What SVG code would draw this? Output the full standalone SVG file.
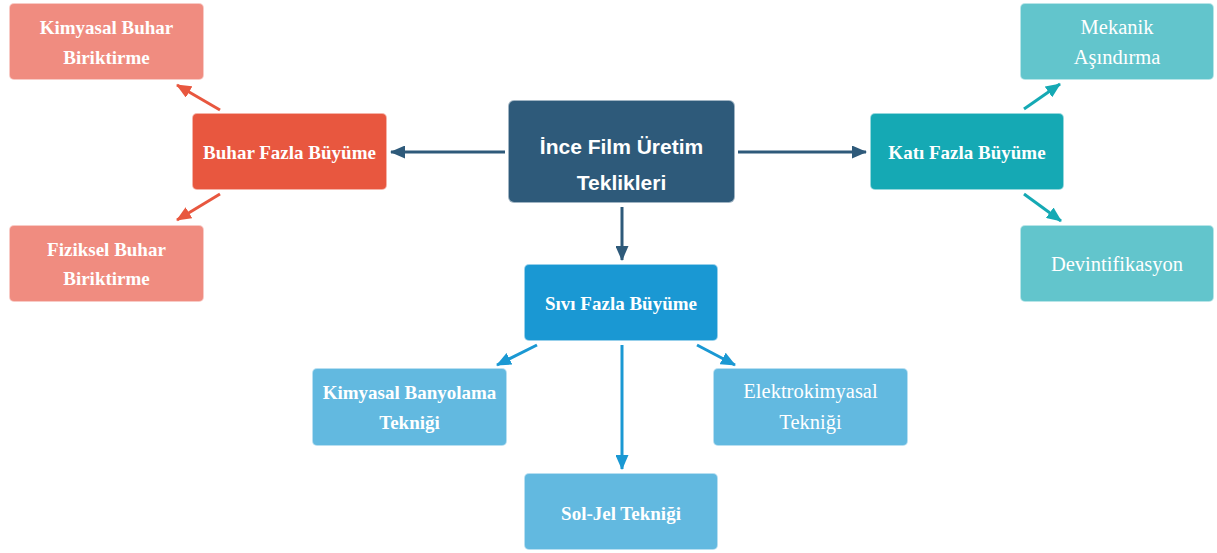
<svg xmlns="http://www.w3.org/2000/svg" width="1217" height="553" viewBox="0 0 1217 553">
  <style>
    .box { stroke: #ffffff; stroke-opacity: 0.55; stroke-width: 2; }
    .t { fill: #ffffff; text-anchor: middle; }
    .sans { font-family: "Liberation Sans", Arial, sans-serif; font-weight: bold; font-size: 21px; }
    .serifb { font-family: "Liberation Serif", "Times New Roman", serif; font-weight: bold; font-size: 19px; }
    .serif { font-family: "Liberation Serif", "Times New Roman", serif; font-size: 20.5px; }
    .ln { fill: none; stroke-width: 3; }
  </style>
  <defs>
    <marker id="aDark" viewBox="0 0 15 13" refX="14" refY="6.5" markerWidth="15" markerHeight="13" markerUnits="userSpaceOnUse" orient="auto">
      <path d="M0,0 L15,6.5 L0,13 Z" fill="#2e5a7a"/>
    </marker>
    <marker id="aRed" viewBox="0 0 15 13" refX="14" refY="6.5" markerWidth="15" markerHeight="13" markerUnits="userSpaceOnUse" orient="auto">
      <path d="M0,0 L15,6.5 L0,13 Z" fill="#e8573f"/>
    </marker>
    <marker id="aTeal" viewBox="0 0 15 13" refX="14" refY="6.5" markerWidth="15" markerHeight="13" markerUnits="userSpaceOnUse" orient="auto">
      <path d="M0,0 L15,6.5 L0,13 Z" fill="#15a9b4"/>
    </marker>
    <marker id="aBlue" viewBox="0 0 15 13" refX="14" refY="6.5" markerWidth="15" markerHeight="13" markerUnits="userSpaceOnUse" orient="auto">
      <path d="M0,0 L15,6.5 L0,13 Z" fill="#1a98d3"/>
    </marker>
  </defs>

  <rect width="1217" height="553" fill="#ffffff"/>

  <!-- connectors -->
  <g id="connectors">
    <line class="ln" x1="505" y1="152" x2="391" y2="152" stroke="#2e5a7a" marker-end="url(#aDark)"/>
    <line class="ln" x1="738" y1="152" x2="866" y2="152" stroke="#2e5a7a" marker-end="url(#aDark)"/>
    <line class="ln" x1="622" y1="207" x2="622" y2="260" stroke="#2e5a7a" marker-end="url(#aDark)"/>
    <line class="ln" x1="220" y1="110" x2="177" y2="85" stroke="#e8573f" marker-end="url(#aRed)"/>
    <line class="ln" x1="220" y1="194" x2="177" y2="220" stroke="#e8573f" marker-end="url(#aRed)"/>
    <line class="ln" x1="1024" y1="109" x2="1060" y2="84" stroke="#15a9b4" marker-end="url(#aTeal)"/>
    <line class="ln" x1="1024" y1="194" x2="1061" y2="221" stroke="#15a9b4" marker-end="url(#aTeal)"/>
    <line class="ln" x1="537" y1="345" x2="497" y2="365" stroke="#1a98d3" marker-end="url(#aBlue)"/>
    <line class="ln" x1="622" y1="345" x2="622" y2="469" stroke="#1a98d3" marker-end="url(#aBlue)"/>
    <line class="ln" x1="697" y1="345" x2="735" y2="365" stroke="#1a98d3" marker-end="url(#aBlue)"/>
  </g>

  <!-- central topic -->
  <g id="n-center">
    <rect class="box" x="508" y="100" width="227" height="103" rx="6" fill="#2e5a7a"/>
    <text class="t sans" x="621.5" y="154">İnce Film Üretim</text>
    <text class="t sans" x="621.5" y="190">Teklikleri</text>
  </g>

  <!-- vapour phase branch -->
  <g id="n-buhar">
    <rect class="box" x="192" y="113" width="195" height="77" rx="5" fill="#e8573f"/>
    <text class="t serifb" x="289.5" y="159">Buhar Fazla Büyüme</text>
  </g>
  <g id="n-kbb">
    <rect class="box" x="9" y="3" width="195" height="77" rx="5" fill="#f08c80"/>
    <text class="t serifb" x="106.5" y="34">Kimyasal Buhar</text>
    <text class="t serifb" x="106.5" y="64">Biriktirme</text>
  </g>
  <g id="n-fbb">
    <rect class="box" x="9" y="225" width="195" height="77" rx="5" fill="#f08c80"/>
    <text class="t serifb" x="106.5" y="256">Fiziksel Buhar</text>
    <text class="t serifb" x="106.5" y="285">Biriktirme</text>
  </g>

  <!-- solid phase branch -->
  <g id="n-kati">
    <rect class="box" x="870" y="113" width="194" height="77" rx="5" fill="#15a9b4"/>
    <text class="t serifb" x="967" y="159">Katı Fazla Büyüme</text>
  </g>
  <g id="n-mekanik">
    <rect class="box" x="1020" y="3" width="194" height="77" rx="5" fill="#62c5cc"/>
    <text class="t serif" x="1117" y="34">Mekanik</text>
    <text class="t serif" x="1117" y="64">Aşındırma</text>
  </g>
  <g id="n-devint">
    <rect class="box" x="1020" y="225" width="194" height="77" rx="5" fill="#62c5cc"/>
    <text class="t serif" x="1117" y="271">Devintifikasyon</text>
  </g>

  <!-- liquid phase branch -->
  <g id="n-sivi">
    <rect class="box" x="524" y="264" width="194" height="77" rx="5" fill="#1a98d3"/>
    <text class="t serifb" x="621" y="310">Sıvı Fazla Büyüme</text>
  </g>
  <g id="n-banyo">
    <rect class="box" x="312" y="368" width="195" height="78" rx="5" fill="#62b9e0"/>
    <text class="t serifb" x="409.5" y="399">Kimyasal Banyolama</text>
    <text class="t serifb" x="409.5" y="429">Tekniği</text>
  </g>
  <g id="n-elektro">
    <rect class="box" x="713" y="368" width="195" height="78" rx="5" fill="#62b9e0"/>
    <text class="t serif" x="810.5" y="398">Elektrokimyasal</text>
    <text class="t serif" x="810.5" y="429">Tekniği</text>
  </g>
  <g id="n-soljel">
    <rect class="box" x="524" y="473" width="194" height="77" rx="5" fill="#62b9e0"/>
    <text class="t serifb" x="621" y="520">Sol-Jel Tekniği</text>
  </g>
</svg>
